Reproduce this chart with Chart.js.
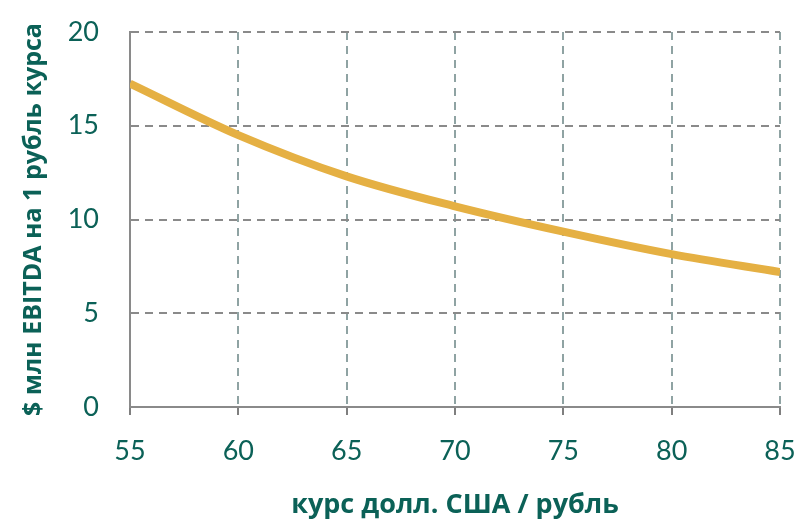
<!DOCTYPE html>
<html>
<head>
<meta charset="utf-8">
<script src="https://cdn.jsdelivr.net/npm/chart.js@4"></script>
<style>
html,body{margin:0;padding:0;background:#fff;}
#wrap{width:801px;height:522px;position:relative;}
</style>
</head>
<body>
<div id="wrap"><canvas id="c" width="801" height="522"></canvas></div>
<script>
const rates = [55, 60, 65, 70, 75, 80, 85];
const ebitdaPerRuble = [17.25, 14.5, 12.3, 10.7, 9.35, 8.15, 7.2];
const xTicks = [55, 60, 65, 70, 75, 80, 85];
const yTicks = [0, 5, 10, 15, 20];
const xTitle = 'курс долл. США / рубль';
const yTitle = '$ млн EBITDA на 1 рубль курса';

const textColor = '#0b6157';
const tickFont = {family: 'Lato', size: 27};

function zeroPad(s) { s.paddingTop = 0; s.paddingBottom = 0; s.paddingLeft = 0; s.paddingRight = 0; }

new Chart(document.getElementById('c'), {
  type: 'line',
  data: {
    datasets: [{
      data: rates.map((x, i) => ({x: x, y: ebitdaPerRuble[i]})),
      borderColor: '#e5b043',
      borderWidth: 8,
      pointRadius: 0,
      cubicInterpolationMode: 'monotone',
      fill: false
    }]
  },
  options: {
    responsive: false,
    animation: false,
    devicePixelRatio: 1,
    layout: {padding: {top: 32, right: 21, left: 0, bottom: 0}},
    plugins: {legend: {display: false}, tooltip: {enabled: false}},
    scales: {
      x: {
        type: 'linear', min: 55, max: 85,
        afterBuildTicks: s => { s.ticks = xTicks.map(v => ({value: v})); },
        afterFit: s => { s.height = 115; zeroPad(s); },
        ticks: {color: textColor, font: tickFont, padding: 20, maxRotation: 0},
        grid: {color: '#8fa3a3', lineWidth: 2, drawTicks: true, tickLength: 8,
               tickColor: '#7f7f7f', tickWidth: 2, tickBorderDash: []},
        border: {display: true, color: '#8a8a8a', width: 2, dash: [8, 6]},
        title: {display: true, text: xTitle, color: textColor,
                font: {family: 'Open Sans', size: 27, weight: 'bold'}, padding: {top: 12, bottom: 0}}
      },
      y: {
        min: 0, max: 20,
        afterBuildTicks: s => { s.ticks = yTicks.map(v => ({value: v})); },
        afterFit: s => { s.width = 130; zeroPad(s); },
        ticks: {color: textColor, font: tickFont, padding: 31},
        grid: {color: '#8a8a8a', lineWidth: 2, drawTicks: false},
        border: {display: true, color: '#8a8a8a', width: 2, dash: [8, 6]},
        title: {display: true, text: yTitle, color: textColor,
                font: {family: 'Open Sans', size: 25, weight: 'bold'}, padding: {top: 19, bottom: 0}}
      }
    }
  }
});
</script>
</body>
</html>
